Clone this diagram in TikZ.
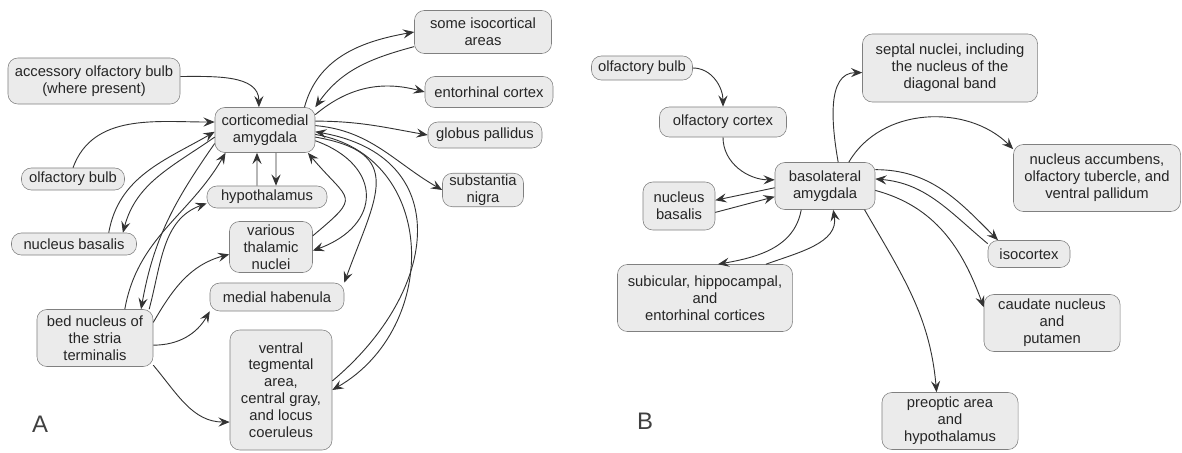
\documentclass[tikz,border=0pt]{standalone}
\usepackage{fontspec}
\setmainfont{Liberation Sans}
\usetikzlibrary{arrows.meta}

\begin{document}
\begin{tikzpicture}[x=0.025cm,y=0.025cm,
  areabox/.style={draw=black!50, fill=black!8, rounded corners=7pt, align=center,
    inner sep=1pt, text=black!85, font=\fontsize{10.5}{12}\selectfont},
  arr/.style={-{Stealth[length=8pt,width=6.5pt,inset=3pt]}, draw=black!80, line width=0.65pt},
  panel/.style={text=black!75, font=\fontsize{17}{17}\selectfont}]
 \useasboundingbox (0,0) rectangle (1182,-453);

 \node[areabox, minimum width=4.3cm, minimum height=1.15cm] (accA) at (94,-81) {accessory olfactory bulb\\(where present)};
 \node[areabox, minimum width=2.5cm, minimum height=1.125cm] (cmA) at (265,-130) {corticomedial\\amygdala};
 \node[areabox, minimum width=2.575cm, minimum height=0.55cm] (olfA) at (73,-179) {olfactory bulb};
 \node[areabox, minimum width=3.125cm, minimum height=0.55cm] (nbA) at (74,-244) {nucleus basalis};
 \node[areabox, minimum width=3cm, minimum height=0.55cm] (hypA) at (267,-197) {hypothalamus};
 \node[areabox, minimum width=2.075cm, minimum height=1.275cm] (thalA) at (271,-247) {various\\thalamic\\nuclei};
 \node[areabox, minimum width=3.35cm, minimum height=0.7cm] (habA) at (277,-297) {medial habenula};
 \node[areabox, minimum width=2.9cm, minimum height=1.425cm] (bnA) at (95,-338) {bed nucleus of\\the stria\\terminalis};
 \node[areabox, minimum width=2.55cm, minimum height=3cm] (vtaA) at (281,-390) {ventral\\tegmental\\area,\\central gray,\\and locus\\coeruleus};
 \node[areabox, minimum width=3.425cm, minimum height=1.075cm] (isoA) at (483,-32) {some isocortical\\areas};
 \node[areabox, minimum width=3.2cm, minimum height=0.775cm] (entA) at (489,-92) {entorhinal cortex};
 \node[areabox, minimum width=2.85cm, minimum height=0.65cm] (gpA) at (485,-135) {globus pallidus};
 \node[areabox, minimum width=2.025cm, minimum height=0.775cm] (snA) at (483,-190) {substantia\\nigra};
 \node[panel] (labA) at (40,-424) {A};

 \draw[arr] (accA.3) to[out=0,in=90] (cmA.105);
 \draw[arr] (olfA.north) to[out=70,in=180] (cmA.171);
 \draw[arr] (nbA.18) to[out=80,in=210] (cmA.182);
 \draw[arr] (cmA.188) to[out=215,in=75] (nbA.13);
 \draw[arr] (bnA.44) to[out=80,in=240] (cmA.-150);
 \draw[arr] (cmA.195) to[out=235,in=80] (bnA.32);
 \draw[arr] (bnA.28) to[out=75,in=200] (hypA.186);
 \draw[arr] (bnA.15) to[out=60,in=195] (thalA.190);
 \draw[arr] (bnA.-7) to[out=0,in=240] (habA.-168);
 \draw[arr] (bnA.-25) to[out=-50,in=180] (vtaA.212);
 \draw[arr] ([xshift=-0.25cm]hypA.north) -- ([xshift=-0.2cm]cmA.south);
 \draw[arr] ([xshift=0.275cm]cmA.south) -- ([xshift=0.225cm]hypA.north);
 \draw[arr] (cmA.30) to[out=75,in=190] (isoA.west);
 \draw[arr] (isoA.192) to[out=195,in=55] (cmA.north east);
 \draw[arr] (cmA.17) to[out=40,in=165] (entA.west);
 \draw[arr] (cmA.10) to[out=0,in=170] (gpA.west);
 \draw[arr] (cmA.5) to[out=-5,in=150] (snA.west);
 \draw[arr] (thalA.15) to[out=40,in=-50,looseness=2] (cmA.-28);
 \draw[arr] (cmA.-12) to[out=-20,in=20,looseness=1.7] (thalA.-5);
 \draw[arr] (cmA.-8) to[out=-10,in=70,looseness=1.6] (habA.north east);
 \draw[arr] (cmA.-5) to[out=-10,in=30,looseness=1.25] (vtaA.east);
 \draw[arr] (vtaA.10) to[out=40,in=-10,looseness=1.45] (cmA.-2);

 \node[areabox, minimum width=2.525cm, minimum height=0.6cm] (olfB) at (642,-68) {olfactory bulb};
 \node[areabox, minimum width=3.175cm, minimum height=0.75cm] (ocxB) at (723,-122) {olfactory cortex};
 \node[areabox, minimum width=1.8cm, minimum height=1.2cm] (nbB) at (679,-206) {nucleus\\basalis};
 \node[areabox, minimum width=2.5cm, minimum height=1.175cm] (blaB) at (825,-186) {basolateral\\amygdala};
 \node[areabox, minimum width=4.375cm, minimum height=1.7cm] (sepB) at (950,-68) {septal nuclei, including\\the nucleus of the\\diagonal band};
 \node[areabox, minimum width=4.175cm, minimum height=1.675cm] (accB) at (1097,-178) {nucleus accumbens,\\olfactory tubercle, and\\ventral pallidum};
 \node[areabox, minimum width=2.05cm, minimum height=0.675cm] (isoB) at (1029,-254) {isocortex};
 \node[areabox, minimum width=3.4cm, minimum height=1.425cm] (cauB) at (1052,-323) {caudate nucleus\\and\\putamen};
 \node[areabox, minimum width=3.4cm, minimum height=1.425cm] (preB) at (950,-421) {preoptic area\\and\\hypothalamus};
 \node[areabox, minimum width=4.375cm, minimum height=1.675cm] (subB) at (705,-298) {subicular, hippocampal,\\and\\entorhinal cortices};
 \node[panel] (labB) at (645,-421) {B};

 \draw[arr] (olfB.east) to[out=0,in=90] (ocxB.north);
 \draw[arr] (ocxB.south) to[out=-90,in=180] (blaB.173);
 \draw[arr] (blaB.182) -- (nbB.9);
 \draw[arr] (nbB.-10) -- (blaB.192);
 \draw[arr] (blaB.-135) to[out=-100,in=10] (subB.69);
 \draw[arr] (subB.29) to[out=20,in=-80] (blaB.-71);
 \draw[arr] (blaB.61) to[out=100,in=180] (sepB.183);
 \draw[arr] (blaB.45) to[out=60,in=135] (accB.161);
 \draw[arr] (blaB.18) to[out=0,in=135] (isoB.156);
 \draw[arr] (isoB.166) to[out=140,in=-5] (blaB.8);
 \draw[arr] (blaB.-5) to[out=-15,in=110] (cauB.167);
 \draw[arr] (blaB.-31) to[out=-60,in=95] (preB.115);
\end{tikzpicture}
\end{document}
